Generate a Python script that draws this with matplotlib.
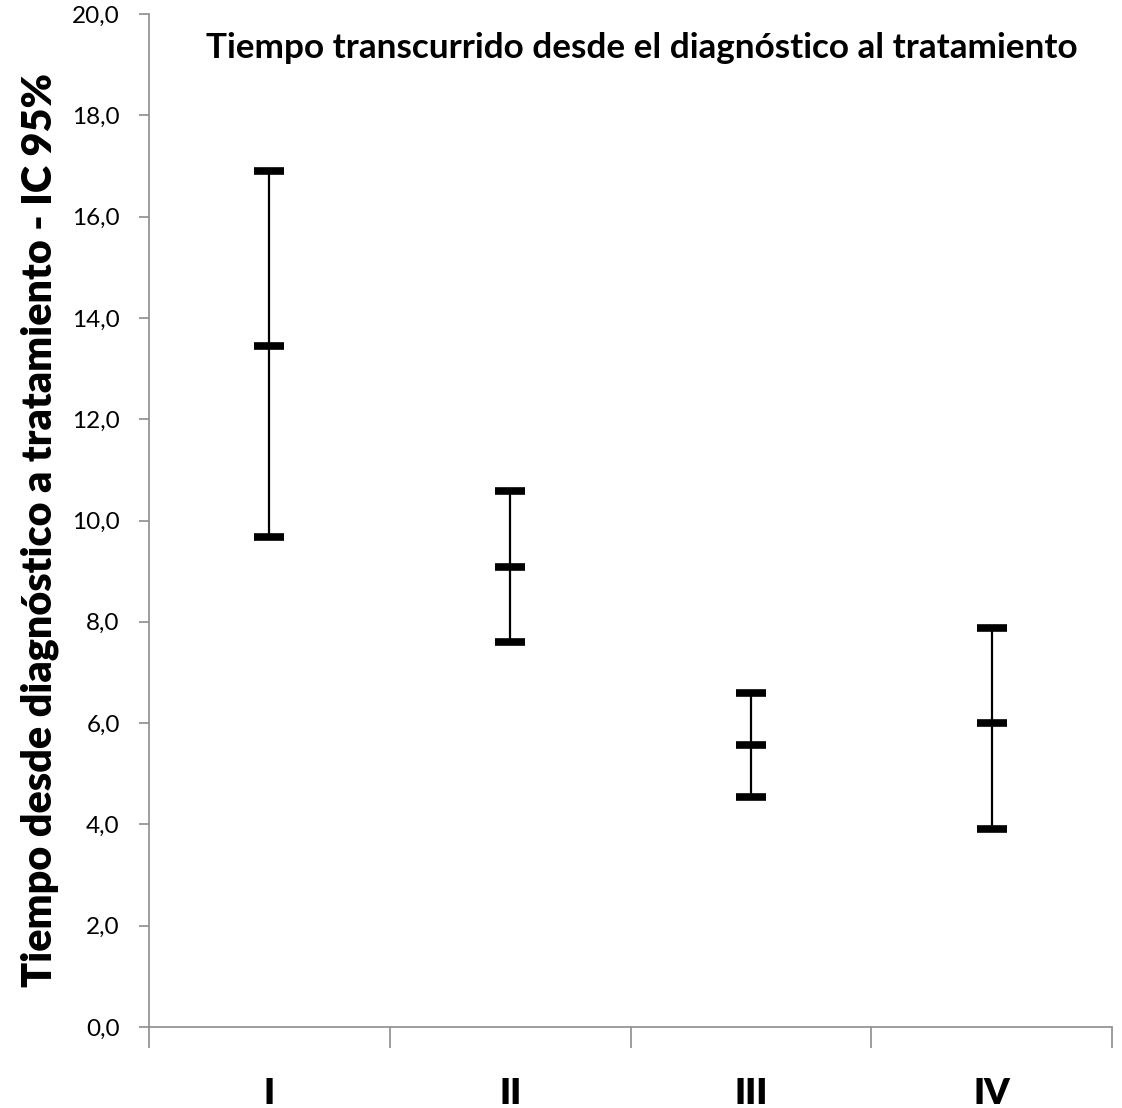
import matplotlib
matplotlib.use("Agg")
import matplotlib.pyplot as plt

categories = ["I", "II", "III", "IV"]
upper = [16.9, 10.58, 6.59, 7.88]
mean = [13.45, 9.08, 5.57, 6.0]
lower = [9.67, 7.60, 4.54, 3.91]
yticks = [0, 2, 4, 6, 8, 10, 12, 14, 16, 18, 20]

plt.rcParams['font.family'] = ['Lato', 'DejaVu Sans']

fig = plt.figure(figsize=(11.22, 11.08), dpi=100)
ax = fig.add_axes([149/1122, 1 - 1027/1108, (1112-149)/1122, (1027-14)/1108])

x = list(range(len(categories)))
ax.vlines(x, lower, upper, color='black', linewidth=1.6, zorder=2)
for series in (upper, mean, lower):
    ax.plot(x, series, linestyle='none', marker='_', markersize=22,
            markeredgewidth=5.5, color='black', zorder=3)

ax.set_xlim(-0.5, len(categories) - 0.5)
ax.set_ylim(0, 20)
ax.set_yticks(yticks)
ax.set_yticklabels([f"{v:.1f}".replace('.', ',') for v in yticks], fontsize=17.5)

ax.set_xticks([i - 0.5 for i in range(len(categories) + 1)])
ax.set_xticklabels([])
ax.set_xticks(x, minor=True)
ax.set_xticklabels(categories, minor=True, fontsize=26, fontweight='heavy')
ax.tick_params(axis='x', which='minor', length=0, pad=36)
ax.tick_params(axis='x', which='major', length=15, width=1.2, color='#8c8c8c', direction='out')
ax.tick_params(axis='y', length=7, width=1.2, color='#8c8c8c', direction='out', pad=14)

for s in ['top', 'right']:
    ax.spines[s].set_visible(False)
for s in ['left', 'bottom']:
    ax.spines[s].set_color('#8c8c8c')
    ax.spines[s].set_linewidth(1.2)

ax.set_ylabel("Tiempo desde diagnóstico a tratamiento - IC 95%", fontsize=29.8,
              fontweight='heavy')
ax.yaxis.set_label_coords(-0.093, 0.4905)

fig.text(642/1122, 1 - 48/1108, "Tiempo transcurrido desde el diagnóstico al tratamiento",
         ha='center', va='center', fontsize=25.3, fontweight='bold')

fig.savefig("out.png", dpi=100)
